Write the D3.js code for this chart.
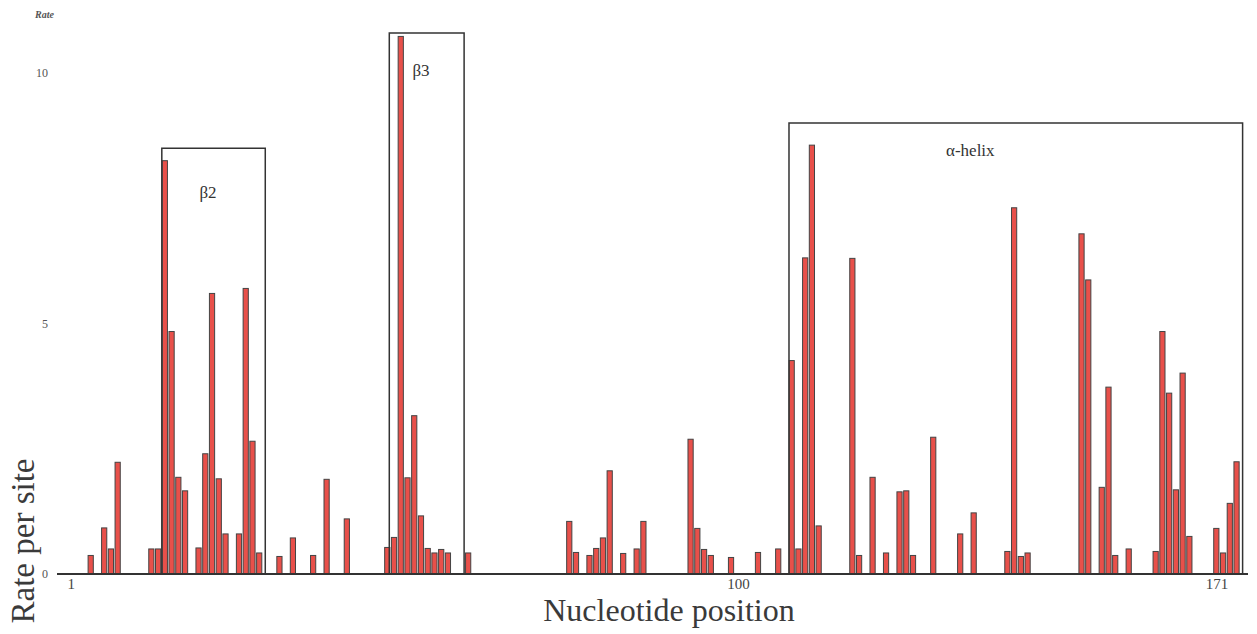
<!DOCTYPE html>
<html>
<head>
<meta charset="utf-8">
<script src="https://cdn.jsdelivr.net/npm/d3@7"></script>
<style>
  body { margin: 0; background: #fff; }
  svg { display: block; }
  text { font-family: "Liberation Serif", "DejaVu Serif", serif; fill: #333; }
</style>
</head>
<body>
<div id="main_plot"></div>
<script>
// nucleotide positions that have a non-zero rate, and their rate per site
positions = [1, 3, 4, 5, 10, 11, 12, 13, 14, 15, 17, 18, 19, 20, 21, 23, 24, 25, 26, 29, 31, 34, 36, 39,
  45, 46, 47, 48, 49, 50, 51, 52, 53, 54, 57, 72, 73, 75, 76, 77, 78, 80, 82, 83, 90, 91, 92, 93, 96,
  100, 103, 105, 106, 107, 108, 109, 114, 115, 117, 119, 121, 122, 123, 126, 130, 132, 137, 138, 139,
  140, 148, 149, 151, 152, 153, 155, 159, 160, 161, 162, 163, 164, 168, 169, 170, 171];
rates = [0.37, 0.92, 0.50, 2.23, 0.50, 0.50, 8.25, 4.84, 1.93, 1.66, 0.52, 2.40, 5.60, 1.90, 0.80, 0.80, 5.70, 2.65, 0.42, 0.35, 0.72, 0.37, 1.89, 1.10,
  0.53, 0.73, 10.73, 1.92, 3.16, 1.16, 0.51, 0.42, 0.49, 0.42, 0.42, 1.05, 0.43, 0.37, 0.51, 0.72, 2.06, 0.41, 0.50, 1.05, 2.69, 0.91, 0.49, 0.37, 0.33,
  0.43, 0.50, 4.26, 0.50, 6.31, 8.56, 0.96, 6.30, 0.37, 1.93, 0.42, 1.64, 1.66, 0.37, 2.73, 0.80, 1.22, 0.45, 7.31, 0.35,
  0.42, 6.79, 5.87, 1.73, 3.73, 0.37, 0.50, 0.45, 4.84, 3.61, 1.68, 4.01, 0.75, 0.91, 0.42, 1.41, 2.24];

xTicks = [1, 100, 171];
yTicks = [0, 5, 10];

// structural regions boxed on the plot
regionNames = ["\u03B22", "\u03B23", "\u03B1-helix"];
regionStart = [11.55, 45.3, 104.6];
regionEnd = [26.9, 56.4, 171.9];
regionTop = [8.5, 10.8, 9.0];
regionLabelPos = [18.4, 50.0, 131.5];
regionLabelRate = [7.5, 9.95, 8.35];

width = 1257;
height = 634;

let svg = d3.select("#main_plot").append("svg")
  .attr("width", width)
  .attr("height", height);

let x = d3.scaleLinear()
  .domain([-4, 172.7])
  .range([57, 1248]);

let y = d3.scaleLinear()
  .domain([0, 10])
  .range([574, 73]);

let data = positions.map((p, i) => ({ pos: p, rate: rates[i] }));
let barW = 5.2;

// bars
svg.append("g")
  .selectAll("rect")
  .data(data)
  .enter().append("rect")
  .attr("x", d => x(d.pos) - barW / 2)
  .attr("y", d => y(d.rate))
  .attr("width", barW)
  .attr("height", d => y(0) - y(d.rate))
  .attr("fill", "#e8504a")
  .attr("stroke", "#444")
  .attr("stroke-width", 1);

// baseline
svg.append("line")
  .attr("x1", x.range()[0])
  .attr("x2", x.range()[1])
  .attr("y1", y(0))
  .attr("y2", y(0))
  .attr("stroke", "#333")
  .attr("stroke-width", 2);

// x labels sit a little left of their bars, as in the original
let xAxis = d3.axisBottom(x)
  .tickValues(xTicks)
  .tickSize(0)
  .tickPadding(4)
  .tickFormat(d3.format("d"));

svg.append("g")
  .attr("transform", "translate(-20," + y(0) + ")")
  .call(xAxis)
  .call(g => g.select(".domain").remove())
  .selectAll("text")
  .style("font-family", "'Liberation Serif', serif")
  .style("font-size", "15px")
  .style("fill", "#444");

let yAxis = d3.axisLeft(y)
  .tickValues(yTicks)
  .tickSize(0)
  .tickPadding(0)
  .tickFormat(d3.format("d"));

svg.append("g")
  .attr("transform", "translate(48,0)")
  .call(yAxis)
  .call(g => g.select(".domain").remove())
  .selectAll("text")
  .style("font-family", "'Liberation Serif', serif")
  .style("font-size", "12px")
  .style("fill", "#555");

svg.append("text")
  .attr("x", 35)
  .attr("y", 18)
  .style("font-size", "10px")
  .style("font-style", "italic")
  .style("font-weight", "bold")
  .style("fill", "#555")
  .text("Rate");

// region boxes
let regions = regionNames.map((n, i) => ({
  name: n, start: regionStart[i], end: regionEnd[i], top: regionTop[i],
  lx: regionLabelPos[i], ly: regionLabelRate[i]
}));

let box = svg.selectAll(".region")
  .data(regions)
  .enter().append("g")
  .attr("class", "region");

box.append("path")
  .attr("d", d => "M" + x(d.start) + "," + y(0) + "V" + y(d.top) + "H" + x(d.end) + "V" + y(0))
  .attr("fill", "none")
  .attr("stroke", "#333")
  .attr("stroke-width", 1.5);

box.append("text")
  .attr("x", d => x(d.lx))
  .attr("y", d => y(d.ly))
  .attr("text-anchor", "middle")
  .style("font-size", "17px")
  .text(d => d.name);

// axis titles
svg.append("text")
  .attr("x", 669)
  .attr("y", 621)
  .attr("text-anchor", "middle")
  .style("font-size", "32px")
  .style("fill", "#3a3a3a")
  .text("Nucleotide position");

svg.append("text")
  .attr("transform", "translate(34,541) rotate(-90)")
  .attr("text-anchor", "middle")
  .style("font-size", "33px")
  .style("fill", "#3a3a3a")
  .text("Rate per site");
</script>
</body>
</html>
